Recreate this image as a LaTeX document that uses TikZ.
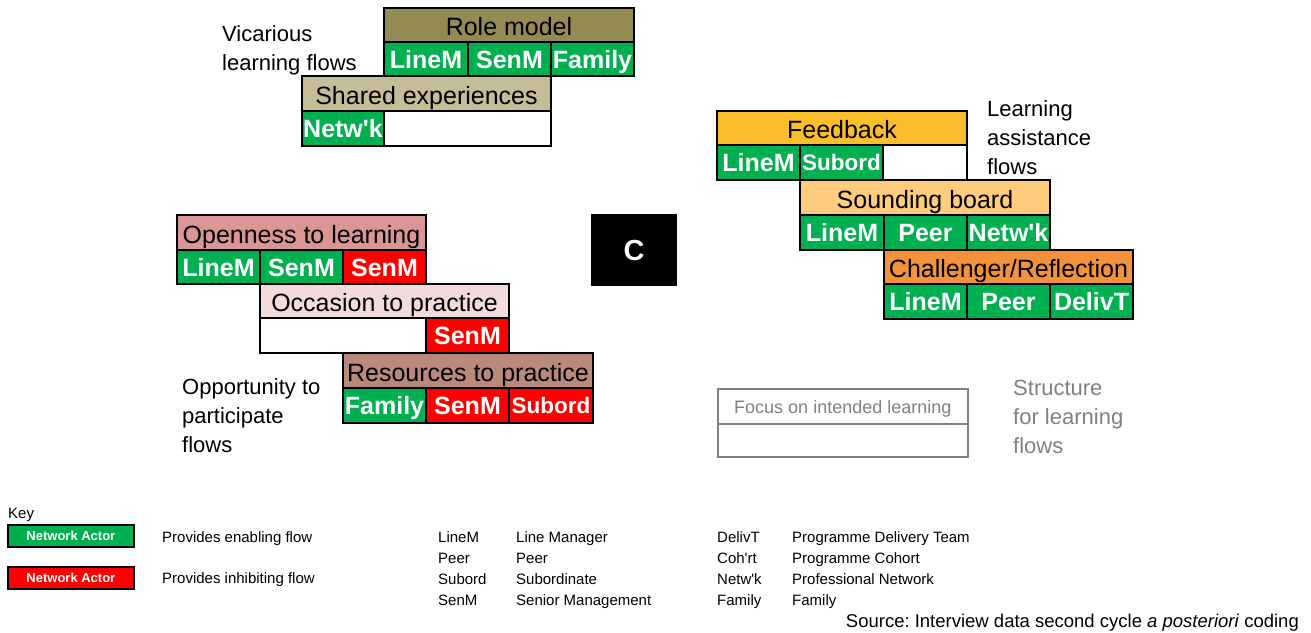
\documentclass[tikz,border=0pt]{standalone}
\usepackage{fontspec}
\setmainfont{Liberation Sans}[Ligatures=TeXOff]
\frenchspacing
\definecolor{actg}{RGB}{0,176,80}
\definecolor{actr}{RGB}{255,0,0}
\definecolor{rolec}{RGB}{148,138,84}
\definecolor{sharedc}{RGB}{196,189,151}
\definecolor{openc}{RGB}{217,150,148}
\definecolor{occc}{RGB}{242,220,219}
\definecolor{resc}{RGB}{185,138,124}
\definecolor{feedc}{RGB}{250,190,45}
\definecolor{soundc}{RGB}{254,204,124}
\definecolor{challc}{RGB}{244,146,60}
\definecolor{greyc}{RGB}{128,128,128}
\tikzset{
  cell/.style={draw=black, line width=1.8pt, inner sep=0pt, outer sep=0pt, anchor=north west, minimum height=35pt},
  hdr/.style={cell, fill=#1, font=\fontsize{25}{30}\selectfont, text height=21pt, text depth=0pt},
  act/.style={cell, fill=#1, text=white, font=\bfseries\fontsize{25}{30}\selectfont, text height=18pt, text depth=0pt},
  actsm/.style={act=#1, font=\bfseries\fontsize{22.5}{27}\selectfont, text height=16pt},
  blank/.style={cell, fill=white},
  side/.style={anchor=north west, inner sep=0pt, align=left, font=\fontsize{22}{29}\selectfont},
  gcell/.style={draw=greyc, line width=1.6pt, inner sep=0pt, anchor=north west, minimum width=250pt, text=greyc, font=\fontsize{18}{22}\selectfont, text height=14pt, text depth=0pt},
  keybox/.style={draw=black, line width=1.8pt, fill=#1, inner sep=0pt, anchor=north west, minimum width=126pt, minimum height=22pt, text=white, font=\bfseries\fontsize{13}{15}\selectfont, text height=9.5pt, text depth=0pt},
  keytxt/.style={anchor=base west, inner sep=0pt, font=\fontsize{15}{18}\selectfont},
}
\begin{document}
\begin{tikzpicture}[x=1pt, y=-1pt]
\useasboundingbox (0,0) rectangle (1311,632);

% ---------- Vicarious learning flows ----------
\node[hdr=rolec, minimum width=250pt, minimum height=34pt] (rm) at (384,8) {Role model};
\node[act=actg, minimum width=84pt, minimum height=34pt] (rm1) at (384,42) {LineM};
\node[act=actg, minimum width=83pt, minimum height=34pt] (rm2) at (468,42) {SenM};
\node[act=actg, minimum width=83pt, minimum height=34pt] (rm3) at (551,42) {Family};
\node[hdr=sharedc, minimum width=249pt] (se) at (302,76) {Shared experiences};
\node[act=actg, minimum width=82pt] (se1) at (302,111) {Netw'k};
\node[blank, minimum width=167pt] (se2) at (384,111) {};
\node[side] (vic) at (222,25) {Vicarious\\learning flows};

% ---------- Opportunity to participate flows ----------
\node[hdr=openc, minimum width=249pt] (op) at (177,215) {Openness to learning};
\node[act=actg, minimum width=83pt, minimum height=34pt] (op1) at (177,250) {LineM};
\node[act=actg, minimum width=83pt, minimum height=34pt] (op2) at (260,250) {SenM};
\node[act=actr, minimum width=83pt, minimum height=34pt] (op3) at (343,250) {SenM};
\node[hdr=occc, minimum width=249pt, minimum height=34pt] (oc) at (260,284) {Occasion to practice};
\node[blank, minimum width=166pt] (oc1) at (260,318) {};
\node[act=actr, minimum width=83pt] (oc2) at (426,318) {SenM};
\node[hdr=resc, minimum width=250pt] (rs) at (343,353) {Resources to practice};
\node[act=actg, minimum width=83pt] (rs1) at (343,388) {Family};
\node[act=actr, minimum width=83pt] (rs2) at (426,388) {SenM};
\node[actsm=actr, minimum width=84pt] (rs3) at (509,388) {Subord};
\node[side] (opp) at (182,378) {Opportunity to\\participate\\flows};

% ---------- C ----------
\node[fill=black, inner sep=0pt, anchor=north west, minimum width=86pt, minimum height=72pt, text=white, font=\bfseries\fontsize{29}{34}\selectfont] (cbox) at (591,214) {C};

% ---------- Learning assistance flows ----------
\node[hdr=feedc, minimum width=250pt, minimum height=34pt] (fb) at (717,111) {Feedback};
\node[act=actg, minimum width=83pt] (fb1) at (717,145) {LineM};
\node[actsm=actg, minimum width=83pt] (fb2) at (800,145) {Subord};
\node[blank, minimum width=84pt] (fb3) at (883,145) {};
\node[hdr=soundc, minimum width=250pt] (sb) at (800,180) {Sounding board};
\node[act=actg, minimum width=84pt] (sb1) at (800,215) {LineM};
\node[act=actg, minimum width=83pt] (sb2) at (884,215) {Peer};
\node[act=actg, minimum width=83pt] (sb3) at (967,215) {Netw'k};
\node[hdr=challc, minimum width=249pt, minimum height=34pt] (cr) at (884,250) {Challenger/Reflection};
\node[act=actg, minimum width=83pt] (cr1) at (884,284) {LineM};
\node[act=actg, minimum width=83pt] (cr2) at (967,284) {Peer};
\node[act=actg, minimum width=83pt] (cr3) at (1050,284) {DelivT};
\node[side] (las) at (987,100) {Learning\\assistance\\flows};

% ---------- Structure for learning flows ----------
\node[gcell, minimum height=35pt] (fo) at (717,388) {Focus on intended learning};
\node[gcell, minimum height=33pt] (fo2) at (717,423) {};
\node[side, text=greyc] (str) at (1013,380) {Structure\\for learning\\flows};

% ---------- Key ----------
\node[keytxt] (key) at (8,518) {Key};
\node[keybox=actg] (kg) at (7,524) {Network Actor};
\node[keybox=actr] (kr) at (7,566) {Network Actor};
\node[keytxt] (kgt) at (162,542.5) {Provides enabling flow};
\node[keytxt] (krt) at (162,583) {Provides inhibiting flow};

\node[keytxt] (a1) at (438,542.5) {LineM};
\node[keytxt] (a2) at (438,563.5) {Peer};
\node[keytxt] (a3) at (438,584.5) {Subord};
\node[keytxt] (a4) at (438,605.5) {SenM};
\node[keytxt] (d1) at (516,542.5) {Line Manager};
\node[keytxt] (d2) at (516,563.5) {Peer};
\node[keytxt] (d3) at (516,584.5) {Subordinate};
\node[keytxt] (d4) at (516,605.5) {Senior Management};

\node[keytxt] (b1) at (717,542.5) {DelivT};
\node[keytxt] (b2) at (717,563.5) {Coh'rt};
\node[keytxt] (b3) at (717,584.5) {Netw'k};
\node[keytxt] (b4) at (717,605.5) {Family};
\node[keytxt] (e1) at (792,542.5) {Programme Delivery Team};
\node[keytxt] (e2) at (792,563.5) {Programme Cohort};
\node[keytxt] (e3) at (792,584.5) {Professional Network};
\node[keytxt] (e4) at (792,605.5) {Family};

\node[anchor=base east, inner sep=0pt, font=\fontsize{18.5}{22}\selectfont] (src) at (1299,627) {Source: Interview data second cycle \textit{a posteriori} coding};
\end{tikzpicture}
\end{document}
